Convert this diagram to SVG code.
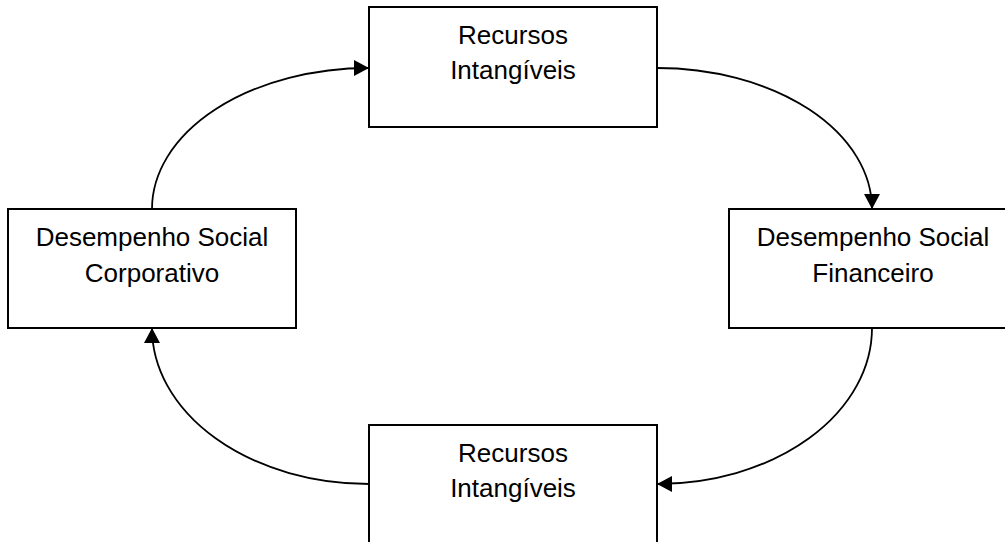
<svg xmlns="http://www.w3.org/2000/svg" width="1005" height="542" viewBox="0 0 1005 542">
  <style>
    .box { fill: #ffffff; stroke: #000000; stroke-width: 2; }
    .label { font-family: "Liberation Sans", Arial, sans-serif; font-size: 26px; fill: #000000; text-anchor: middle; }
    .link { fill: none; stroke: #000000; stroke-width: 1.8; marker-end: url(#arrow); }
  </style>
  <defs>
    <marker id="arrow" markerUnits="userSpaceOnUse" markerWidth="15" markerHeight="16" viewBox="0 0 15 16" refX="15" refY="8" orient="auto">
      <path d="M0,0 L15,8 L0,16 Z" fill="#000000"/>
    </marker>
  </defs>

  <rect width="1005" height="542" fill="#ffffff"/>

  <g id="connectors">
    <!-- top box -> right box -->
    <path class="link" d="M657,68 A215,141 0 0 1 872,209"/>
    <!-- right box -> bottom box -->
    <path class="link" d="M872,328 A215,156 0 0 1 657,484"/>
    <!-- bottom box -> left box -->
    <path class="link" d="M369,484 A217,156 0 0 1 152,328"/>
    <!-- left box -> top box -->
    <path class="link" d="M152,209 A217,141 0 0 1 369,68"/>
  </g>

  <g id="node-top">
    <rect class="box" x="369" y="7" width="288" height="120"/>
    <text class="label" x="513" y="44">Recursos</text>
    <text class="label" x="513" y="79">Intangíveis</text>
  </g>

  <g id="node-right">
    <rect class="box" x="729" y="209" width="288" height="119"/>
    <text class="label" x="873" y="246">Desempenho Social</text>
    <text class="label" x="873" y="282">Financeiro</text>
  </g>

  <g id="node-bottom">
    <rect class="box" x="369" y="425" width="288" height="125"/>
    <text class="label" x="513" y="462">Recursos</text>
    <text class="label" x="513" y="497">Intangíveis</text>
  </g>

  <g id="node-left">
    <rect class="box" x="8" y="209" width="288" height="119"/>
    <text class="label" x="152" y="246">Desempenho Social</text>
    <text class="label" x="152" y="282">Corporativo</text>
  </g>
</svg>
